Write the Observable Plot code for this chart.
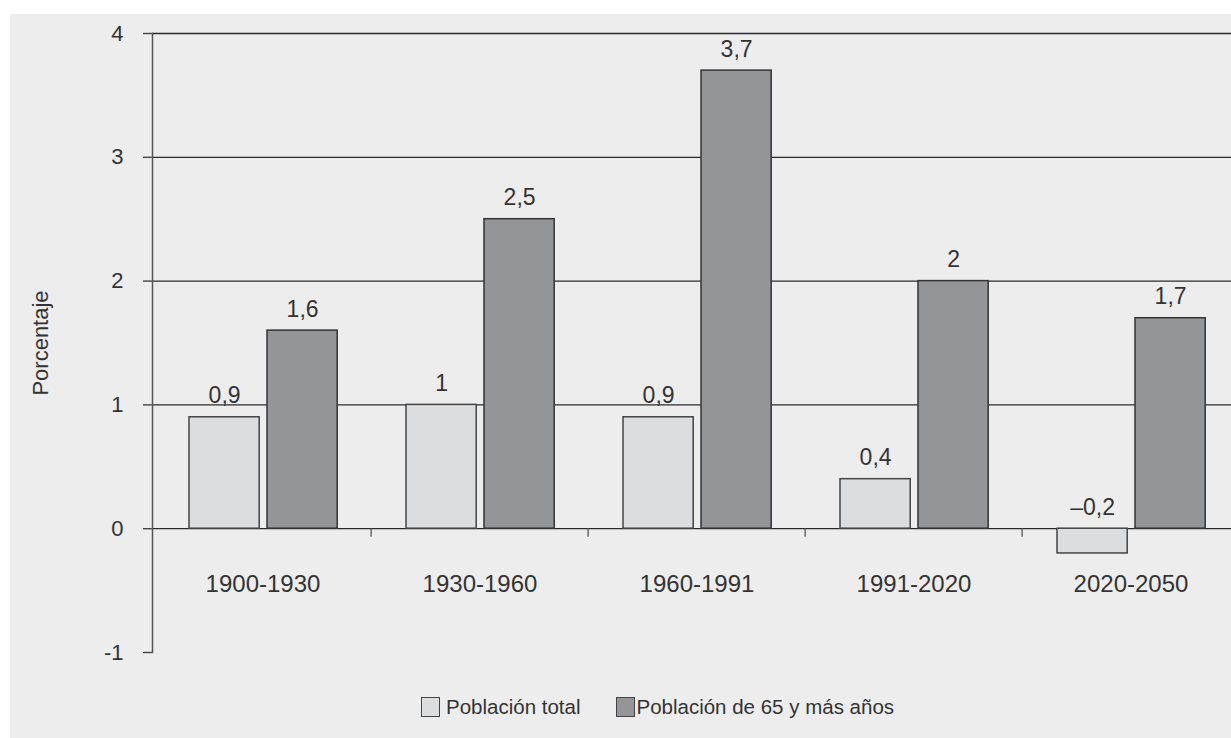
<!DOCTYPE html>
<html><head><meta charset="utf-8">
<script src="https://cdn.jsdelivr.net/npm/d3@7"></script>
<script src="https://cdn.jsdelivr.net/npm/@observablehq/plot@0.6"></script>
<style>
html,body{margin:0;padding:0;width:1231px;height:738px;overflow:hidden;background:#fff;font-family:"Liberation Sans",Arial,sans-serif;}
#panel{position:absolute;left:10px;top:14px;right:0;bottom:0;background:#ededed;}
#chart{position:absolute;left:0;top:0;}
#legend{position:absolute;top:697px;left:421px;display:flex;align-items:center;font-size:20.5px;line-height:20px;color:#333;}
.item{display:flex;align-items:center;}
.sw{box-sizing:border-box;width:19px;height:20px;border:1.5px solid #444;display:inline-block;}
</style></head><body>
<div id="panel"></div><div id="chart"></div>
<div id="legend"></div>
<script>
const periods = ["1900-1930","1930-1960","1960-1991","1991-2020","2020-2050"];
const seriesNames = ["Población total","Población de 65 y más años"];
const totalPop = [0.9, 1, 0.9, 0.4, -0.2];
const pop65 = [1.6, 2.5, 3.7, 2, 1.7];
const yTicks = [-1, 0, 1, 2, 3, 4];
const gridValues = [0, 1, 2, 3, 4];
const seriesColors = ["#dcdddf", "#939598"];

const rows = periods.map((p, i) => ({period: p, total: totalPop[i], older: pop65[i]}));
const fmt = d => (d < 0 ? "\u2013" : "") + String(Math.abs(d)).replace(".", ",");

const W = 1241, ML = 152;
const bw = (W - ML) / periods.length;

const chart = Plot.plot({
  width: W, height: 680,
  marginLeft: ML, marginRight: 0, marginTop: 33, marginBottom: 28,
  style: {background: "transparent", fontFamily: "Liberation Sans, Arial, sans-serif", color: "#333", overflow: "visible", maxWidth: "none"},
  x: {domain: periods, padding: 0, axis: null},
  y: {domain: [-1, 4], axis: null},
  marks: [
    Plot.ruleY(gridValues, {stroke: "#2a2a2a", strokeWidth: 1.3}),
    Plot.axisY(yTicks, {tickSize: 9, tickPadding: 20, fontSize: 22, stroke: "#444", strokeWidth: 1.4,
      tickFormat: d => String(d), label: "Porcentaje", labelAnchor: "center", labelArrow: "none", labelOffset: 120}),
    Plot.frame({anchor: "left", stroke: "#555", strokeWidth: 1.5}),
    Plot.ruleX(periods.slice(1), {x: d => d, y1: 0, y2: -0.07, dx: -bw / 2, stroke: "#555", strokeWidth: 1.3}),
    Plot.barY(rows, {x: "period", y: "total", fill: seriesColors[0], stroke: "#444", strokeWidth: 1.5, insetLeft: 35, insetRight: bw - 106}),
    Plot.barY(rows, {x: "period", y: "older", fill: seriesColors[1], stroke: "#333", strokeWidth: 1.5, insetLeft: 113, insetRight: bw - 184}),
    Plot.text(rows, {x: "period", y: d => Math.max(d.total, 0), text: d => fmt(d.total), dx: -38.4, dy: -14, lineAnchor: "bottom", fontSize: 23, fill: "#333"}),
    Plot.text(rows, {x: "period", y: d => Math.max(d.older, 0), text: d => fmt(d.older), dx: 39.6, dy: -14, lineAnchor: "bottom", fontSize: 23, fill: "#333"}),
    Plot.axisX({anchor: "bottom", tickSize: 0, tickPadding: 0, dy: -78, fontSize: 24, fill: "#333", label: null})
  ]
});
document.getElementById("chart").appendChild(chart);

const legend = document.getElementById("legend");
seriesNames.forEach((name, i) => {
  const item = document.createElement("div");
  item.className = "item";
  item.style.marginRight = i === 0 ? "36px" : "0";
  const sw = document.createElement("span");
  sw.className = "sw";
  sw.style.background = seriesColors[i];
  sw.style.marginRight = i === 0 ? "6px" : "1px";
  const t = document.createElement("span");
  t.textContent = name;
  item.appendChild(sw); item.appendChild(t);
  legend.appendChild(item);
});
</script>
</body></html>
